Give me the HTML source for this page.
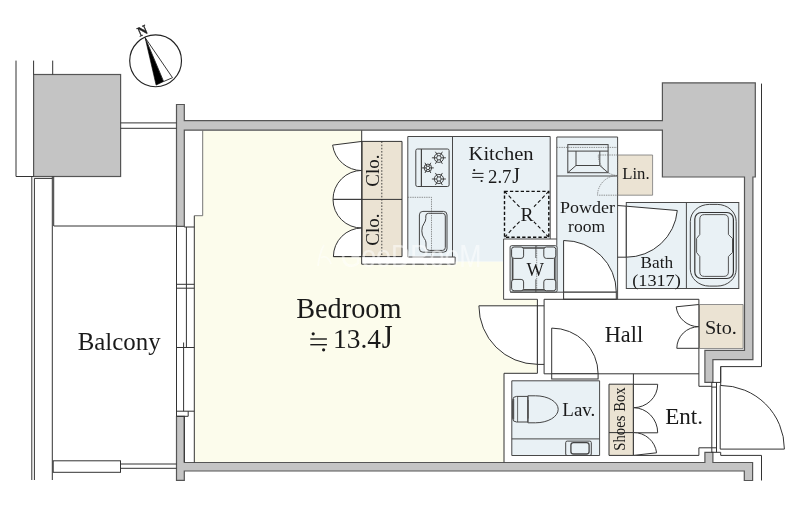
<!DOCTYPE html>
<html>
<head>
<meta charset="utf-8">
<title>Floor plan</title>
<style>
html,body{margin:0;padding:0;background:#fff;}
body{width:800px;height:510px;overflow:hidden;font-family:"Liberation Serif",serif;}
svg{display:block;}
text{font-family:"Liberation Serif",serif;fill:#1a1a1a;filter:grayscale(1);}
.ln{fill:none;stroke:#333;stroke-width:1;}
.lt{fill:none;stroke:#444;stroke-width:0.8;}
.wall{fill:#c4c4c4;stroke:#555;stroke-width:1.2;stroke-linejoin:miter;}
.dw{fill:#fff;stroke:#333;stroke-width:1;}
.dot{fill:none;stroke:#666;stroke-width:0.7;stroke-dasharray:1.4 0.9;}
.fx{fill:none;stroke:#444;stroke-width:1;}
</style>
</head>
<body>
<svg width="800" height="510" viewBox="0 0 800 510">
<rect x="0" y="0" width="800" height="510" fill="#ffffff"/>

<!-- ===== FLOOR FILLS ===== -->
<g id="fills">
<!-- bedroom cream -->
<path d="M202.7,130.4 L361.7,130.4 L361.7,264.2 L455.2,264.2 L455.2,261.4 L503.6,261.4 L503.6,299.3 L537.4,299.3 L537.4,373.3 L504,373.3 L504,462.5 L194.3,462.5 L194.3,215.7 L202.7,215.7 Z" fill="#fcfcec"/>
<!-- kitchen blue -->
<path d="M407.8,136.5 L550.2,136.5 L550.2,238.7 L503.6,238.7 L503.6,261.4 L455.2,261.4 L455.2,257 L407.8,257 Z" fill="#e9f1f5"/>
<!-- powder room blue -->
<path d="M556.8,137 L617.6,137 L617.6,292.2 L510.1,292.2 L510.1,245.7 L556.8,245.7 Z" fill="#e9f1f5"/>
<!-- bath blue -->
<rect x="626.3" y="202.5" width="112.5" height="86" fill="#e9f1f5"/>
<!-- lav blue -->
<rect x="511.8" y="380.8" width="87.8" height="74.7" fill="#e9f1f5"/>
<!-- beige -->
<rect x="362" y="141.4" width="40" height="115.2" fill="#ebe3d3"/>
<rect x="617.6" y="155" width="35" height="40.2" fill="#ebe3d3"/>
<rect x="698.9" y="304.5" width="44.2" height="44" fill="#ebe3d3"/>
<rect x="609" y="384.2" width="24.4" height="71.2" fill="#ebe3d3"/>
</g>

<!-- ===== WALLS ===== -->
<g id="walls">
<path class="wall" d="M176.5,104.5 L184.3,104.5 L184.3,120.6 L662.4,120.6 L662.4,82.9 L755.3,82.9 L755.3,177 L752.9,177 L752.9,359.6 L712.9,359.6 L712.9,382.4 L704.9,382.4 L704.9,350.4 L744.5,350.4 L744.5,177 L662.4,177 L662.4,130.2 L184.3,130.2 L184.3,226.3 L176.5,226.3 Z"/>
<path class="wall" d="M176.5,416.3 L184.3,416.3 L184.3,462.5 L704.9,462.5 L704.9,452.3 L712.9,452.3 L712.9,462.5 L752.6,462.5 L752.6,480.5 L744.3,480.5 L744.3,471 L184.3,471 L184.3,480.4 L176.5,480.4 Z"/>
<!-- balcony grey box -->
<rect class="wall" x="33.6" y="74.5" width="87" height="102"/>
</g>

<!-- ===== BALCONY / EXTERIOR LINES ===== -->
<g id="balcony" class="ln">
<path d="M16,60.6 L16,176.5 L33.6,176.5"/>
<path d="M33.6,60.6 L33.6,74.5 M52.7,60.6 L52.7,74.5"/>
<path d="M31.8,176.5 L31.8,480 M34.4,178.4 L34.4,480 M34.4,178.4 L52.4,178.4"/>
<path d="M52.3,176.5 L52.3,480 M53.7,176.5 L53.7,226"/>
<path d="M53.8,226 L176.5,226"/>
<path d="M120.6,122.9 L176.5,122.9 M120.6,128.3 L176.5,128.3"/>
<rect x="53.2" y="460.8" width="67.3" height="11.5" fill="#fff"/>
<path d="M120.5,464 L176.5,464 M120.5,468.3 L176.5,468.3"/>
<!-- window -->
<path d="M176.5,226.3 L176.5,416.3 M194.3,215.7 L194.3,462.5 M186.4,227 L186.4,347.5 M183.6,342.5 L183.6,411.2"/>
<path d="M184.3,227 L194.3,227 M176.5,284.3 L194.3,284.3 M176.5,288.2 L194.3,288.2 M176.5,347.5 L194.3,347.5 M176.5,411.2 L194.3,411.2"/>
<path d="M176.5,416.3 L188.2,416.3 L188.2,411.2"/>
<!-- curtain box notch -->
<path d="M202.7,130.4 L202.7,215.7 L194.3,215.7" style="stroke:#666;stroke-width:0.9"/>
<path d="M184.3,462.2 L184.3,416.3"/>
<!-- right exterior thin lines -->
<path d="M761.5,83.6 L761.5,366.6 L720.7,366.6 L720.7,385.1"/>
<path d="M720.7,455.4 L761.5,455.4 L761.5,480.5"/>
</g>

<!-- ===== COMPASS ===== -->
<g id="compass">
<circle cx="155.6" cy="60.8" r="25.9" fill="#fff" stroke="#222" stroke-width="1.15"/>
<path d="M145.1,37.6 L156.1,85.1 L163.6,81.5 Z" fill="#000" stroke="#000" stroke-width="0.6"/>
<path d="M145.1,37.6 L163.6,81.5 L172.5,77.7 Z" fill="#fff" stroke="#222" stroke-width="0.9"/>
<text x="0" y="0" transform="translate(142.4,30.6) rotate(-24)" font-size="13.5" font-weight="bold" text-anchor="middle" dominant-baseline="central" style="fill:#222;stroke:#222;stroke-width:0.3">N</text>
</g>

<!-- ===== CLOSETS ===== -->
<g id="closets">
<!-- door swings (white) -->
<path class="dw" d="M362,141.4 L332.6,145.1 A29.6,29.6 0 0 0 362,170.6 Z"/>
<path class="dw" d="M362,170.4 A29,29 0 0 0 333,199.4 L362,199.4 Z"/>
<path class="dw" d="M362,199.4 L333,199.4 A28.6,28.6 0 0 0 362,228 Z"/>
<path class="dw" d="M362,228 A28.6,28.6 0 0 0 333.4,256.6 L362,256.6 Z"/>
<!-- white strip under closet / counter -->
<rect x="361.7" y="256.6" width="93.5" height="7.6" fill="#fff"/>
<path class="ln" d="M361.7,130.4 L361.7,264.2 L455.2,264.2 L455.2,257"/>
<path class="ln" d="M361.7,141.4 L402,141.4 L402,256.6 L333.4,256.6 M361.7,199.4 L402,199.4"/>
<path class="dot" d="M381.8,141.4 L381.8,256.6" style="stroke:#333;stroke-dasharray:1.6 1.6;stroke-width:0.9"/>
<text transform="translate(378.6,170.6) rotate(-90)" font-size="19.5" text-anchor="middle" textLength="32.2" lengthAdjust="spacingAndGlyphs">Clo.</text>
<text transform="translate(378.6,229.6) rotate(-90)" font-size="19.5" text-anchor="middle" textLength="32.2" lengthAdjust="spacingAndGlyphs">Clo.</text>
</g>

<!-- ===== KITCHEN ===== -->
<g id="kitchen">
<path class="ln" style="stroke:#484848" d="M407.8,257 L407.8,136.5 L550.2,136.5 L550.2,239 M556.8,239 L503.6,239 L503.6,299.3 L537.4,299.3"/>
<path class="ln" style="stroke:#484848" d="M452.5,136.5 L452.5,257 M407.8,257 L455.2,257"/>
<!-- stove -->
<rect class="fx" x="415.8" y="149" width="33.3" height="37.5" rx="1.6"/>
<path class="fx" style="stroke-width:1.2" d="M421.4,149 L421.4,186.5"/>
<g class="fx" style="stroke:#333;stroke-width:0.9"><circle cx="438.9" cy="157.8" r="4.6"/><circle cx="438.9" cy="157.8" r="2.2"/><path d="M441.10,157.80 L445.90,157.80 M440.00,159.71 L442.40,163.86 M437.80,159.71 L435.40,163.86 M436.70,157.80 L431.90,157.80 M437.80,155.89 L435.40,151.74 M440.00,155.89 L442.40,151.74"/></g>
<g class="fx" style="stroke:#333;stroke-width:0.9"><circle cx="438.9" cy="179.0" r="4.6"/><circle cx="438.9" cy="179.0" r="2.2"/><path d="M441.10,179.00 L445.90,179.00 M440.00,180.91 L442.40,185.06 M437.80,180.91 L435.40,185.06 M436.70,179.00 L431.90,179.00 M437.80,177.09 L435.40,172.94 M440.00,177.09 L442.40,172.94"/></g>
<g class="fx" style="stroke:#333;stroke-width:0.9"><circle cx="427.9" cy="167.9" r="3.8"/><circle cx="427.9" cy="167.9" r="1.8"/><path d="M429.70,167.90 L433.80,167.90 M428.80,169.46 L430.85,173.01 M427.00,169.46 L424.95,173.01 M426.10,167.90 L422.00,167.90 M427.00,166.34 L424.95,162.79 M428.80,166.34 L430.85,162.79"/></g>
<!-- overhead cabinet dotted -->
<path class="dot" d="M407.8,197.3 L431.5,197.3 L431.5,257"/>
<!-- sink -->
<rect class="fx" x="419.4" y="211.4" width="27.6" height="40.8" rx="3.5"/>
<path class="fx" d="M428.5,213.3 L442.5,213.3 Q445.3,213.3 445.3,216 L445.3,247.6 Q445.3,250.4 442.5,250.4 L429.5,250.4 Q426,250.4 426,247 L426,243 Q426,240.5 424.3,238.5 Q421.8,235.5 421.8,230.8 Q421.8,226.5 424,223.5 Q425.8,221 425.8,218.5 L425.8,216 Q425.8,213.3 428.5,213.3 Z"/>
<!-- fridge -->
<rect x="504.5" y="191.4" width="44.3" height="45.8" fill="none" stroke="#111" stroke-width="1.4" stroke-dasharray="3.3 2.1"/>
<path d="M504.5,191.4 L548.8,237.2 M548.8,191.4 L504.5,237.2" fill="none" stroke="#111" stroke-width="1.1" stroke-dasharray="3.6 2.4"/>
<rect x="520" y="206.5" width="14" height="15.5" fill="#e9f1f5"/>
<text x="527" y="220.8" font-size="19.5" text-anchor="middle">R</text>
<text x="468.6" y="159.7" font-size="19.5" textLength="65" lengthAdjust="spacingAndGlyphs">Kitchen</text>
<!-- approx sign -->
<g fill="#1a1a1a" stroke="none">
<rect x="472.3" y="172.9" width="11.2" height="1"/><rect x="472.3" y="176.9" width="11.2" height="1"/>
<circle cx="474.2" cy="170.2" r="1.1"/><circle cx="481.6" cy="181" r="1.1"/>
</g>
<text x="488" y="182.6" font-size="19.5" textLength="23.5" lengthAdjust="spacingAndGlyphs">2.7</text><text transform="translate(512.2,182.6) scale(1,1.22)" font-size="19.5">J</text>
</g>

<!-- ===== POWDER ROOM ===== -->
<g id="powder">
<path class="ln" style="stroke:#484848" d="M556.8,245.7 L556.8,137 L617.6,137 L617.6,299.3"/>
<path class="ln" style="stroke:#484848" d="M556.8,176 L617.6,176"/>
<path class="dot" d="M556.8,147.4 L617.6,147.4"/>
<!-- basin -->
<rect class="fx" x="567.8" y="144.6" width="40.3" height="28.1"/>
<path class="fx" d="M567.8,151.1 L608.1,151.1 M576,151.1 L576,165.5 L599.8,165.5 L599.8,151.1 M576,165.5 L567.8,172.7 M599.8,165.5 L608.1,172.7"/>
<!-- linen doors dotted -->
<path class="dot" d="M617.6,155 L598.3,155 A20,20.5 0 0 0 617.6,175.5 A20,20 0 0 0 597.5,195.2 L617.6,195.2 M617.6,155 L617.6,195.2"/>
<path class="lt" d="M617.6,155 L652.6,155 L652.6,195.2 L617.6,195.2" style="stroke:#777"/>
<text x="622.2" y="179.1" font-size="17" textLength="27.4" lengthAdjust="spacingAndGlyphs">Lin.</text>
<!-- washer pan -->
<rect class="fx" x="510.1" y="245.7" width="47" height="46.4" rx="1.5" fill="#e9f1f5"/>
<rect class="fx" x="512.6" y="248" width="42.2" height="41.8" rx="2" style="stroke:#4a4a4a;stroke-width:1.7"/>
<g class="fx" fill="#e9f1f5">
<rect x="511.6" y="247" width="12" height="11.4" rx="2.5" fill="#e9f1f5"/>
<rect x="543.8" y="247" width="12" height="11.4" rx="2.5" fill="#e9f1f5"/>
<rect x="511.6" y="279.4" width="12" height="11.4" rx="2.5" fill="#e9f1f5"/>
<rect x="543.8" y="279.4" width="12" height="11.4" rx="2.5" fill="#e9f1f5"/>
</g>
<path class="dot" d="M536.7,245.7 L536.7,292.1"/>
<path class="lt" d="M535.8,245.7 L535.8,258 M535.8,279.4 L535.8,292.1"/>
<text x="535.2" y="275.9" font-size="18.5" text-anchor="middle">W</text>
<!-- powder door -->
<path class="dw" d="M563.6,292.2 L563.6,240.5 A52.4,51.7 0 0 1 616.3,292.2 Z"/>
<rect class="dw" x="563.6" y="292.2" width="52.7" height="7"/>
<path class="ln" style="stroke:#484848" d="M510.1,292.2 L563.6,292.2"/>
<text x="587.5" y="212.8" font-size="16" text-anchor="middle" textLength="55" lengthAdjust="spacingAndGlyphs">Powder</text>
<text x="586.6" y="231.6" font-size="16" text-anchor="middle" textLength="37" lengthAdjust="spacingAndGlyphs">room</text>
</g>

<!-- ===== BATH ===== -->
<g id="bath">
<rect class="ln" style="stroke:#484848" x="626.3" y="202.5" width="112.5" height="86"/>
<path class="ln" style="stroke:#484848" d="M686.4,202.5 L686.4,288.5"/>
<path class="ln" d="M617.6,205.5 L626.3,206.2 M617.6,257.2 L626.3,257.2"/>
<!-- door -->
<path class="dw" d="M626.3,206.2 L677.3,210.5 A51.2,51.2 0 0 1 626.3,257.2 Z"/>
<!-- tub -->
<rect class="fx" x="690.3" y="204.4" width="45.9" height="81.7" rx="19" ry="17"/>
<rect class="fx" style="stroke-width:1.2;stroke:#333" x="694.8" y="212.5" width="38.6" height="66" rx="6.5"/>
<path class="fx" style="stroke-width:0.9;stroke:#444;stroke-linejoin:round" d="M704.3,214.6 L723.9,214.6 Q728.4,214.6 728.4,219.1 L728.4,234.5 L732.5,238.5 L732.5,252.5 L728.4,256.5 L728.4,271.9 Q728.4,276.4 723.9,276.4 L704.3,276.4 Q699.8,276.4 699.8,271.9 L699.8,256.5 L696.6,252.5 L696.6,238.5 L699.8,234.5 L699.8,219.1 Q699.8,214.6 704.3,214.6 Z"/>
<text x="656.9" y="268.1" font-size="17" text-anchor="middle" textLength="32.6" lengthAdjust="spacingAndGlyphs">Bath</text>
<text x="656.5" y="285.7" font-size="17" text-anchor="middle" textLength="48.5" lengthAdjust="spacingAndGlyphs">(1317)</text>
</g>

<!-- ===== HALL / BEDROOM DOOR ===== -->
<g id="hall">
<!-- bedroom door -->
<path class="dw" d="M537.4,305.8 L478.9,305.8 A58.5,58.5 0 0 0 537.4,364.3 Z"/>
<rect x="537.4" y="305.8" width="6.7" height="58.6" fill="#fff"/>
<path class="ln" d="M537.4,299.3 L537.4,373.3 L504,373.3 L504,462.3"/>
<path class="ln" d="M544.1,299.3 L544.1,373.8"/>
<path class="ln" d="M537.4,305.8 L544.1,305.8 M537.4,364.4 L544.1,364.4"/>
<path class="ln" d="M544.1,299.3 L698.9,299.3 L698.9,386.3 L711.8,386.3"/>
<path class="ln" d="M544.1,373.8 L698.9,373.8"/>
<!-- lav door -->
<path class="dw" d="M551.7,373.8 L551.7,328.1 A46.4,45.7 0 0 1 598.1,373.8 Z"/>
<rect class="dw" x="551.7" y="373.8" width="46.4" height="5.2"/>
<text x="604.8" y="342" font-size="23" textLength="38.3" lengthAdjust="spacingAndGlyphs">Hall</text>
<!-- sto -->
<path class="dw" d="M698.9,304.5 L676.2,306.8 A22.8,22.3 0 0 0 698.9,326.7 Z"/>
<path class="dw" d="M698.9,326.7 A22.1,21.6 0 0 0 676.8,348.3 L698.9,348.3 Z"/>
<path class="lt" style="stroke:#777" d="M698.9,304.5 L743.1,304.5 L743.1,348.5 L698.9,348.5"/>
<text x="704.9" y="333.6" font-size="19.5" textLength="32" lengthAdjust="spacingAndGlyphs">Sto.</text>
</g>

<!-- ===== LAV ===== -->
<g id="lav">
<path class="ln" style="stroke:#484848" d="M511.8,380.8 L599.6,380.8 L599.6,455.5 L511.8,455.5 Z M511.8,438.9 L599.6,438.9"/>
<!-- toilet -->
<path class="fx" fill="#e9f1f5" d="M527.9,395.8 L535.5,395.8 A22.7,13.5 0 0 1 535.5,422.8 L527.9,422.8 Z"/>
<path class="fx" fill="#e9f1f5" d="M516.5,396.4 L527.9,396.4 L527.9,422 L516.5,422 Q512.6,422 512.6,418 L512.6,400.4 Q512.6,396.4 516.5,396.4 Z"/>
<path class="fx" style="stroke-width:1.6;stroke:#555" d="M513.4,399 L513.4,419.5 M527.9,400 L527.9,418.6"/>
<path class="lt" d="M517.6,396.4 L517.6,422"/>
<!-- small sink -->
<rect class="fx" x="565.7" y="441.1" width="25.6" height="14.4" rx="1.5"/>
<rect class="fx" x="570.9" y="442.6" width="18.2" height="11.4" rx="2.5" style="stroke-width:1.3"/>
<text x="562.3" y="415.8" font-size="19.5" textLength="33" lengthAdjust="spacingAndGlyphs">Lav.</text>
</g>

<!-- ===== ENTRANCE ===== -->
<g id="ent">
<path class="ln" d="M633.4,373.8 L633.4,455.4 M609,455.4 L698.9,455.4 L698.9,447.8 L711.8,447.8"/>
<!-- shoes box doors -->
<path class="dw" d="M633.4,384.3 L657.7,384.3 A24.3,23.4 0 0 1 633.4,407.7 Z"/>
<path class="dw" d="M633.4,407.7 A24.3,25.1 0 0 1 657.7,432.8 L633.4,432.8 Z"/>
<path class="dw" d="M633.4,432.6 A23,23 0 0 1 656.6,452.8 L633.4,455.4 Z"/>
<path class="ln" d="M633.4,384.2 L609,384.2 L609,455.4 M609,432.6 L633.4,432.6"/>
<text transform="translate(625.3,419) rotate(-90)" font-size="16.3" text-anchor="middle" textLength="63.5" lengthAdjust="spacingAndGlyphs">Shoes Box</text>
<text x="665.2" y="424.4" font-size="23" textLength="37.8" lengthAdjust="spacingAndGlyphs">Ent.</text>
<!-- entrance door -->
<path class="dw" d="M720.2,449.1 L784.4,449.1 A64.2,63.7 0 0 0 720.2,385.4 Z"/>
<path class="ln" d="M711.8,382.4 L711.8,452.3 M716.5,382.4 L716.5,452.3"/>
<path class="ln" d="M711.8,387.1 L716.6,387.1 M711.8,447.8 L716.6,447.8 M711.8,382.4 L720.7,382.4 L720.7,366.6 M711.8,452.3 L720.7,452.3 L720.7,455.4"/>
</g>

<!-- ===== BIG LABELS ===== -->
<g id="labels">
<text x="296.2" y="318" font-size="29" textLength="105.3" lengthAdjust="spacingAndGlyphs">Bedroom</text>
<g fill="#1a1a1a" stroke="none">
<rect x="310.3" y="338.3" width="16.6" height="1.4"/><rect x="310.3" y="344" width="16.6" height="1.4"/>
<circle cx="313.2" cy="333.8" r="1.6"/><circle cx="323.6" cy="349.8" r="1.6"/>
</g>
<text x="333" y="348" font-size="28" textLength="48" lengthAdjust="spacingAndGlyphs">13.4</text><text transform="translate(381.8,348) scale(1,1.2)" font-size="28">J</text>
<text x="77.7" y="349.7" font-size="25" textLength="83" lengthAdjust="spacingAndGlyphs">Balcony</text>
</g>

<!-- ===== WATERMARK (faint) ===== -->
<g id="wm" opacity="0.5">
<text x="340.5" y="267.3" style="font-family:'Liberation Sans',sans-serif;fill:#ffffff" font-size="31" textLength="141" lengthAdjust="spacingAndGlyphs">GooDRooM</text>
<path d="M318,266 C319,258 321,250 324,245 M321,258 C325,255 329,258 331,264" fill="none" stroke="#fff" stroke-width="1.6"/>
</g>

</svg>
</body>
</html>
